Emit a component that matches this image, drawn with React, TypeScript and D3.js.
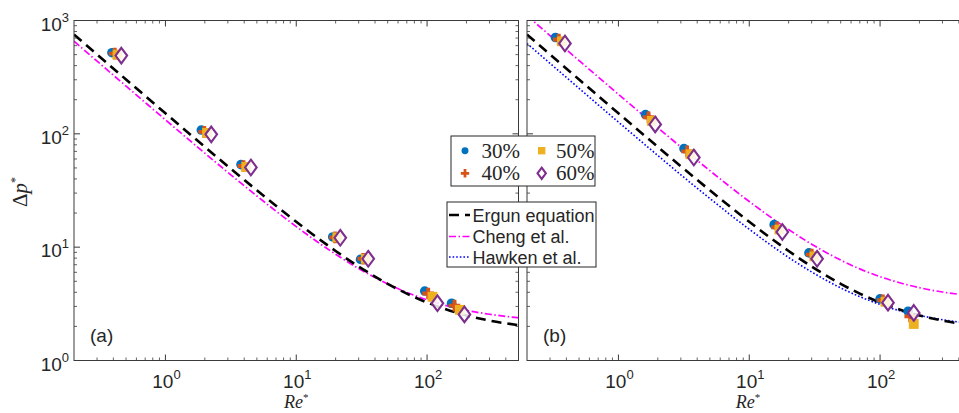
import React from 'react';
import * as d3 from 'd3';

// ---------- data ----------
const seriesNames = ['30%', '40%', '50%', '60%'];
const seriesColors = ['#0072BD', '#D95319', '#EDB120', '#7E2F8E'];

// panel (a)
const reA30 = [0.39, 1.88, 3.78, 19.0, 31.0, 96, 154];
const dpA30 = [520, 108, 53.5, 12.3, 7.8, 4.1, 3.2];
const reA40 = [0.41, 1.98, 3.95, 19.8, 32.5, 102, 162];
const dpA40 = [510, 104, 52, 12.2, 7.9, 3.9, 3.05];
const reA50 = [0.43, 2.08, 4.15, 20.6, 34.0, 110, 178];
const dpA50 = [500, 102, 51, 12.2, 7.9, 3.65, 2.8];
const reA60 = [0.46, 2.24, 4.5, 21.7, 35.5, 120, 193];
const dpA60 = [490, 99, 50.5, 12.1, 7.9, 3.2, 2.55];

// panel (b)
const reB30 = [0.33, 1.61, 3.17, 15.5, 28.6, 100, 164];
const dpB30 = [708, 148, 74, 15.8, 8.9, 3.5, 2.72];
const reB40 = [0.35, 1.7, 3.35, 16.3, 30.0, 105, 170];
const dpB40 = [680, 140, 70, 15.0, 8.6, 3.4, 2.45];
const reB50 = [0.37, 1.8, 3.55, 17.0, 31.5, 110, 181];
const dpB50 = [655, 130, 66, 14.3, 8.3, 3.3, 2.1];
const reB60 = [0.39, 1.91, 3.77, 17.9, 33.0, 115, 181];
const dpB60 = [627, 121, 61.8, 13.6, 7.9, 3.24, 2.63];

// model curves
const curveRe = [0.2, 0.3, 0.5, 0.7, 1, 1.5, 2, 3, 5, 7, 10, 15, 20, 30, 50, 70, 100, 150, 200, 300, 500];
const ergunDp = [751.75, 501.75, 301.75, 216.04, 151.75, 101.75, 76.75, 51.75, 31.75, 23.18, 16.75, 11.75, 9.25, 6.75, 4.75, 3.89, 3.25, 2.75, 2.5, 2.25, 2.05];
const chengDpA = [656.1, 438.1, 263.7, 189.0, 132.9, 89.3, 67.5, 45.7, 28.3, 20.8, 15.2, 10.84, 8.66, 6.48, 4.74, 3.99, 3.43, 2.99, 2.77, 2.56, 2.38];
const chengDpB = [1102.8, 736.3, 443.1, 317.4, 223.2, 149.9, 113.2, 76.6, 47.3, 34.7, 25.3, 17.95, 14.3, 10.62, 7.69, 6.43, 5.49, 4.76, 4.39, 4.02, 3.73];
const hawkenDpB = [626.9, 418.5, 251.9, 180.4, 126.9, 85.2, 64.4, 43.5, 26.9, 19.7, 14.4, 10.2, 8.12, 6.04, 4.37, 3.66, 3.12, 2.70, 2.50, 2.29, 2.12];

const xMajor = [1, 10, 100];
const xMajorExp = ['0', '1', '2'];
const yMajor = [1, 10, 100, 1000];
const yMajorExp = ['0', '1', '2', '3'];
const xDomain = [0.2, 500];
const yDomain = [1, 1000];

// ---------- layout ----------
const W = 959;
const H = 413;
const TOP = 20.5;
const BOTTOM = 360.5;
const panels = [
  { id: 'a', x0: 74, x1: 518.5, label: '(a)' },
  { id: 'b', x0: 527, x1: 971.5, label: '(b)' },
];
const AXC = '#3a3a3a';
const TXC = '#262626';

type Pt = { re: number; dp: number };
const zip = (r: number[], d: number[]): Pt[] => r.map((v, i) => ({ re: v, dp: d[i] }));

const dataA = [zip(reA30, dpA30), zip(reA40, dpA40), zip(reA50, dpA50), zip(reA60, dpA60)];
const dataB = [zip(reB30, dpB30), zip(reB40, dpB40), zip(reB50, dpB50), zip(reB60, dpB60)];

function minorTicks(lo: number, hi: number) {
  const out: number[] = [];
  for (let e = -2; e <= 4; e++) {
    for (let m = 2; m <= 9; m++) {
      const v = m * Math.pow(10, e);
      if (v > lo * 1.0001 && v < hi * 0.9999) out.push(v);
    }
  }
  return out;
}

function Marker({ kind, x, y, s = 1 }: { kind: number; x: number; y: number; s?: number }) {
  const c = seriesColors[kind];
  if (kind === 0) return <circle cx={x} cy={y} r={4.8 * s} fill={c} />;
  if (kind === 1) {
    const p = d3.symbol().type(d3.symbolCross).size(75 * s * s)();
    return <path d={p || ''} transform={`translate(${x},${y})`} fill={c} />;
  }
  if (kind === 2) {
    const h = 4.3 * s;
    return <rect x={x - h} y={y - h} width={2 * h} height={2 * h} fill={c} stroke={c} strokeWidth={1.2} />;
  }
  const hw = 5.8 * s, hh = 7.8 * s;
  return (
    <path
      d={`M${x},${y - hh}L${x + hw},${y}L${x},${y + hh}L${x - hw},${y}Z`}
      fill="#ffffff"
      fillOpacity={0.85}
      stroke={c}
      strokeWidth={2.1}
    />
  );
}

function Panel({ p, data, curves, showYLabels }: any) {
  const xs = d3.scaleLog().domain(xDomain).range([p.x0, p.x1]);
  const ys = d3.scaleLog().domain(yDomain).range([BOTTOM, TOP]);
  const line = d3
    .line<Pt>()
    .x((d) => xs(d.re))
    .y((d) => ys(d.dp))
    .curve(d3.curveMonotoneX);
  const xm = minorTicks(xDomain[0], xDomain[1]);
  const ym = minorTicks(yDomain[0], yDomain[1]);
  const clipId = `clip-${p.id}`;
  return (
    <g>
      <defs>
        <clipPath id={clipId}>
          <rect x={p.x0} y={TOP} width={p.x1 - p.x0} height={BOTTOM - TOP} />
        </clipPath>
      </defs>
      <g clipPath={`url(#${clipId})`}>
        {curves.map((c: any, i: number) => (
          <path
            key={i}
            d={line(zip(curveRe, c.dp)) || ''}
            fill="none"
            stroke={c.color}
            strokeWidth={c.width}
            strokeDasharray={c.dash}
          />
        ))}
        {data.map((ser: Pt[], k: number) =>
          ser.map((d, i) => <Marker key={`${k}-${i}`} kind={k} x={xs(d.re)} y={ys(d.dp)} />)
        )}
      </g>
      <rect x={p.x0} y={TOP} width={p.x1 - p.x0} height={BOTTOM - TOP} fill="none" stroke={AXC} strokeWidth={1} />
      {xMajor.map((v) => (
        <g key={`xM${v}`}>
          <line x1={xs(v)} x2={xs(v)} y1={BOTTOM} y2={BOTTOM - 6} stroke={AXC} />
          <line x1={xs(v)} x2={xs(v)} y1={TOP} y2={TOP + 6} stroke={AXC} />
        </g>
      ))}
      {xm.map((v) => (
        <g key={`xm${v}`}>
          <line x1={xs(v)} x2={xs(v)} y1={BOTTOM} y2={BOTTOM - 3} stroke={AXC} strokeWidth={0.8} />
          <line x1={xs(v)} x2={xs(v)} y1={TOP} y2={TOP + 3} stroke={AXC} strokeWidth={0.8} />
        </g>
      ))}
      {yMajor.map((v) => (
        <g key={`yM${v}`}>
          <line x1={p.x0} x2={p.x0 + 6} y1={ys(v)} y2={ys(v)} stroke={AXC} />
          <line x1={p.x1} x2={p.x1 - 6} y1={ys(v)} y2={ys(v)} stroke={AXC} />
        </g>
      ))}
      {ym.map((v) => (
        <g key={`ym${v}`}>
          <line x1={p.x0} x2={p.x0 + 3} y1={ys(v)} y2={ys(v)} stroke={AXC} strokeWidth={0.8} />
          <line x1={p.x1} x2={p.x1 - 3} y1={ys(v)} y2={ys(v)} stroke={AXC} strokeWidth={0.8} />
        </g>
      ))}
      {xMajor.map((v, i) => (
        <text
          key={`xl${v}`}
          x={xs(v) + 1}
          y={388}
          textAnchor="middle"
          fontFamily="'Liberation Sans', Arial, sans-serif"
          fontSize={19}
          fill={TXC}
        >
          10
          <tspan dy={-9} fontSize={13}>
            {xMajorExp[i]}
          </tspan>
        </text>
      ))}
      {showYLabels &&
        yMajor.map((v, i) => (
          <text
            key={`yl${v}`}
            x={p.x0 - 5}
            y={ys(v) + 10}
            textAnchor="end"
            fontFamily="'Liberation Sans', Arial, sans-serif"
            fontSize={19}
            fill={TXC}
          >
            10
            <tspan dy={-9} fontSize={13}>
              {yMajorExp[i]}
            </tspan>
          </text>
        ))}
      <text
        x={(p.x0 + Math.min(p.x1, 969)) / 2}
        y={408}
        textAnchor="middle"
        fontFamily="'Liberation Serif', 'Times New Roman', serif"
        fontStyle="italic"
        fontSize={18}
        fill={TXC}
      >
        Re
        <tspan dy={-7} fontSize={11} fontStyle="normal">
          *
        </tspan>
      </text>
      <text
        x={p.x0 + 16}
        y={342}
        fontFamily="'Liberation Sans', Arial, sans-serif"
        fontSize={19}
        fill={TXC}
      >
        {p.label}
      </text>
    </g>
  );
}

export default function App() {
  const curvesA = [
    { dp: chengDpA, color: '#ff00ff', width: 1.7, dash: '7 2.5 1.5 2.5' },
    { dp: ergunDp, color: '#000000', width: 2.6, dash: '10 6' },
  ];
  const curvesB = [
    { dp: chengDpB, color: '#ff00ff', width: 1.7, dash: '7 2.5 1.5 2.5' },
    { dp: hawkenDpB, color: '#0000ff', width: 1.6, dash: '1.6 2' },
    { dp: ergunDp, color: '#000000', width: 2.6, dash: '10 6' },
  ];
  const leg1 = [
    { k: 0, x: 465, y: 150.7, tx: 481.5 },
    { k: 1, x: 465, y: 173.3, tx: 481.5 },
    { k: 2, x: 541.7, y: 150.7, tx: 556 },
    { k: 3, x: 541.7, y: 173.3, tx: 556 },
  ];
  const leg2 = [
    { name: 'Ergun equation', color: '#000000', width: 2.6, dash: '10 6', y: 215 },
    { name: 'Cheng et al.', color: '#ff00ff', width: 1.7, dash: '7 2.5 1.5 2.5', y: 236.5 },
    { name: 'Hawken et al.', color: '#0000ff', width: 1.6, dash: '1.6 2', y: 257 },
  ];
  return (
    <svg width={W} height={H} style={{ position: 'absolute', left: 0, top: 0, background: '#fff' }}>
      <rect x={0} y={0} width={W} height={H} fill="#ffffff" />
      <Panel p={panels[0]} data={dataA} curves={curvesA} showYLabels={true} />
      <Panel p={panels[1]} data={dataB} curves={curvesB} showYLabels={false} />
      <text
        transform="translate(27,192) rotate(-90)"
        textAnchor="middle"
        fontFamily="'Liberation Serif', 'Times New Roman', serif"
        fontSize={21}
        fill={TXC}
      >
        Δ<tspan fontStyle="italic">p</tspan>
        <tspan dy={-8} fontSize={12}>
          *
        </tspan>
      </text>
      <rect x={451} y={136} width={144} height={50} fill="#ffffff" stroke="#262626" strokeWidth={1} />
      {leg1.map((l) => (
        <g key={l.k}>
          <Marker kind={l.k} x={l.x} y={l.y} s={0.72} />
          <text
            x={l.tx}
            y={l.y + 7}
            fontFamily="'Liberation Serif', 'Times New Roman', serif"
            fontSize={21}
            fill={TXC}
          >
            {seriesNames[l.k]}
          </text>
        </g>
      ))}
      <rect x={447} y={202} width={149} height={65} fill="#ffffff" stroke="#262626" strokeWidth={1} />
      {leg2.map((l) => (
        <g key={l.name}>
          <line
            x1={449}
            x2={470}
            y1={l.y}
            y2={l.y}
            stroke={l.color}
            strokeWidth={l.width}
            strokeDasharray={l.dash}
          />
          <text
            x={472.5}
            y={l.y + 6.5}
            fontFamily="'Liberation Sans', Arial, sans-serif"
            fontSize={18}
            fill={TXC}
          >
            {l.name}
          </text>
        </g>
      ))}
    </svg>
  );
}
